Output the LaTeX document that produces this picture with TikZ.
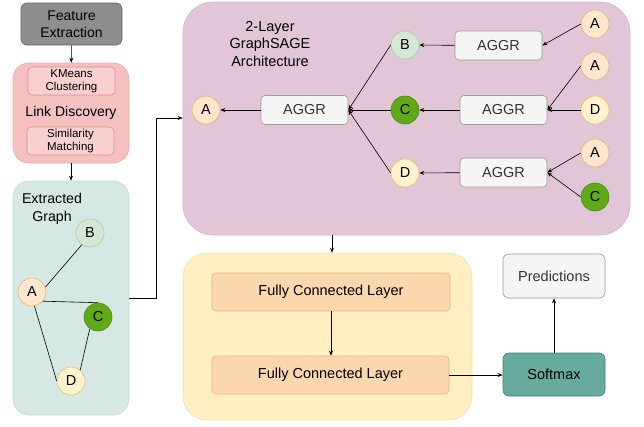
\documentclass[tikz,border=0pt]{standalone}
\usepackage{fontspec}
\setmainfont{Liberation Sans}
\usetikzlibrary{arrows.meta}
\definecolor{grayfill}{HTML}{8E8E8E}
\definecolor{grayline}{HTML}{666666}
\definecolor{linkfill}{HTML}{F5C0C0}
\definecolor{linkline}{HTML}{EAA9A9}
\definecolor{subfill}{HTML}{F8D0D0}
\definecolor{subline}{HTML}{DC8C8C}
\definecolor{graphfill}{HTML}{D5E8E3}
\definecolor{graphline}{HTML}{C6DCD6}
\definecolor{sagefill}{HTML}{E1C6D8}
\definecolor{sageline}{HTML}{D4B6CA}
\definecolor{fcfill}{HTML}{FFEFC3}
\definecolor{fcline}{HTML}{F2DFA6}
\definecolor{layerfill}{HTML}{FAD7AC}
\definecolor{layerline}{HTML}{E3B47C}
\definecolor{aggrfill}{HTML}{F5F5F5}
\definecolor{aggrline}{HTML}{9A9A9A}
\definecolor{softfill}{HTML}{67AB9F}
\definecolor{softline}{HTML}{3F7F73}
\definecolor{nAfill}{HTML}{FFE6CC}
\definecolor{nAline}{HTML}{E3B36F}
\definecolor{nBfill}{HTML}{D5E8D4}
\definecolor{nBline}{HTML}{A9CBA7}
\definecolor{nCfill}{HTML}{60A917}
\definecolor{nCline}{HTML}{4A8A0F}
\definecolor{nDfill}{HTML}{FFF2CC}
\definecolor{nDline}{HTML}{E0C56E}
\tikzset{
  panel/.style={draw=#1, line width=0.6pt, rounded corners=16pt},
  box/.style={rounded corners=4pt, line width=0.6pt, align=center, inner sep=0pt},
  big/.style={font=\fontsize{14.5}{17}\selectfont},
  vert/.style={circle, minimum size=28pt, inner sep=0pt, line width=0.6pt, big},
  vA/.style={vert, fill=nAfill, draw=nAline},
  vB/.style={vert, fill=nBfill, draw=nBline},
  vC/.style={vert, fill=nCfill, draw=nCline},
  vD/.style={vert, fill=nDfill, draw=nDline},
  aggr/.style={box, fill=aggrfill, draw=aggrline, minimum width=87pt, minimum height=29pt, big, text=black!80},
  flow/.style={-{Stealth[length=5pt,width=4pt]}, line width=0.6pt},
  link/.style={line width=0.6pt}
}
\begin{document}
\begin{tikzpicture}[x=1pt,y=-1pt]
\useasboundingbox (0,0) rectangle (644,426);

% background panels
\node[panel=linkline, fill=linkfill, minimum width=116pt, minimum height=100pt, inner sep=0pt] (link) at (71,113) {};
\node[panel=graphline, fill=graphfill, minimum width=116pt, minimum height=234pt, inner sep=0pt] (graph) at (71,298) {};
\node[panel=sageline, fill=sagefill, minimum width=447pt, minimum height=233pt, inner sep=0pt, rounded corners=30pt] (sage) at (406.5,118.5) {};
\node[panel=fcline, fill=fcfill, minimum width=289pt, minimum height=167pt, inner sep=0pt, rounded corners=24pt] (fc) at (327.5,336.5) {};

% feature extraction and link discovery
\node[box, fill=grayfill, draw=grayline, minimum width=101pt, minimum height=42pt, font=\fontsize{14}{17}\selectfont, rounded corners=6pt] (feat) at (71.5,24) {Feature\\Extraction};
\node[box, fill=subfill, draw=subline, minimum width=87pt, minimum height=28pt, font=\fontsize{11.5}{13.5}\selectfont] (kmeans) at (71.5,81) {KMeans\\Clustering};
\node[font=\fontsize{14}{14}\selectfont] (ldtitle) at (71,113) {Link Discovery};
\node[box, fill=subfill, draw=subline, minimum width=87pt, minimum height=28pt, font=\fontsize{11.5}{13.5}\selectfont] (simm) at (70.5,141) {Similarity\\Matching};

% extracted graph
\node[align=center, font=\fontsize{14.2}{18}\selectfont] (gtitle) at (52,209) {Extracted\\Graph};
\node[vB] (gB) at (90,233) {B};
\node[vA] (gA) at (32,292) {A};
\node[vC] (gC) at (98,317) {C};
\node[vD] (gD) at (71,381) {D};
\draw[link] (gA.20) -- (gB.235);
\draw[link] (gA.-40) -- (gC.north);
\draw[link] (gA.-80) -- (gD.west);
\draw[link] (gC.235) -- (gD.50);

% GraphSAGE
\node[align=center, font=\fontsize{14.5}{17.5}\selectfont] (stitle) at (270,44) {2-Layer\\GraphSAGE\\Architecture};
\node[vA] (sA) at (206,110) {A};
\node[aggr] (agg0) at (304.5,110) {AGGR};
\node[vB] (sB) at (405,45) {B};
\node[vC] (sC) at (405,110) {C};
\node[vD] (sD) at (405,173) {D};
\node[aggr] (aggB) at (498.5,45.5) {AGGR};
\node[aggr] (aggC) at (503.5,110) {AGGR};
\node[aggr] (aggD) at (503.5,172.5) {AGGR};
\node[vA] (lA1) at (595,24) {A};
\node[vA] (lA2) at (595,66) {A};
\node[vD] (lD) at (595,110) {D};
\node[vA] (lA3) at (595,153) {A};
\node[vC] (lC) at (595,197) {C};

\draw[flow] (agg0) -- (sA);
\draw[flow] (sB.west) -- (agg0.east);
\draw[flow] (sC.west) -- (agg0.east);
\draw[flow] (sD.west) -- (agg0.east);
\draw[flow] (aggB) -- (sB);
\draw[flow] (aggC) -- (sC);
\draw[flow] (aggD) -- (sD);
\draw[flow] (lA1.west) -- (aggB.east);
\draw[flow] (lA2.west) -- (aggC.east);
\draw[flow] (lD.west) -- (aggC.east);
\draw[flow] (lA3.west) -- (aggD.east);
\draw[flow] (lC.west) -- (aggD.east);

% classifier head
\node[box, fill=layerfill, draw=layerline, minimum width=238pt, minimum height=38pt, big] (fc1) at (331,292) {Fully Connected Layer};
\node[box, fill=layerfill, draw=layerline, minimum width=237pt, minimum height=38pt, big] (fc2) at (330.5,375) {Fully Connected Layer};
\node[box, fill=aggrfill, draw=aggrline, minimum width=102pt, minimum height=44pt, big, text=black!80, rounded corners=6pt] (pred) at (554,276) {Predictions};
\node[box, fill=softfill, draw=softline, minimum width=102pt, minimum height=43pt, big, rounded corners=6pt] (soft) at (554,374.5) {Softmax};

% pipeline connectors
\draw[flow] (feat) -- (link);
\draw[flow] (link) -- (graph);
\draw[flow] (graph.east) -- (156,298) |- (sage.west |- 0,118);
\draw[flow] (sage.south -| 332,0) -- (fc.north -| 332,0);
\draw[flow] (fc1.south -| 331,0) -- (fc2.north -| 331,0);
\draw[flow] (fc2.east) -- (soft.west |- fc2.east);
\draw[flow] (soft) -- (pred);
\end{tikzpicture}
\end{document}
